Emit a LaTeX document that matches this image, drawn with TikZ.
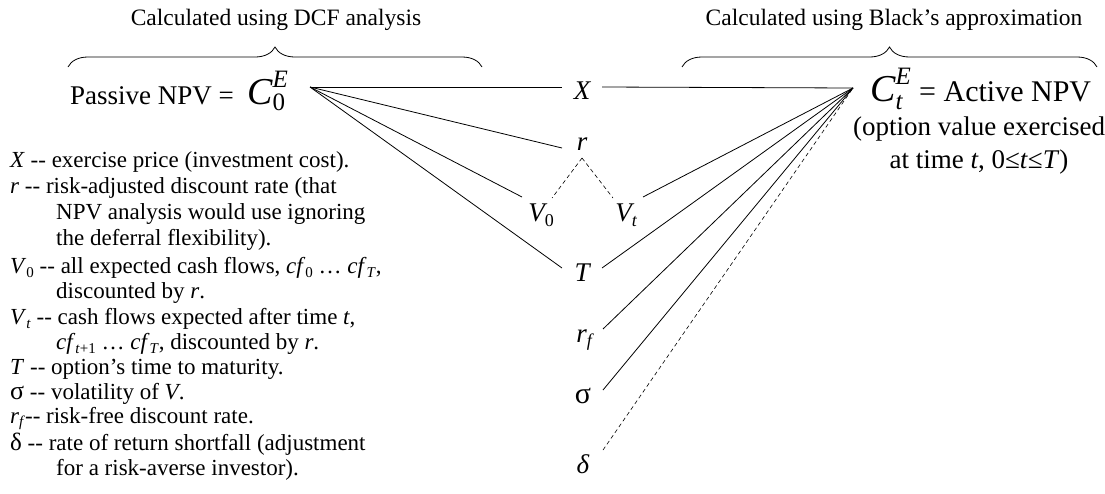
\documentclass[tikz,border=0pt]{standalone}
\usepackage{fontspec}
\setmainfont{Liberation Serif}
\usetikzlibrary{decorations.pathreplacing}
\newcommand\fsz[1]{\fontsize{#1}{#1}\selectfont}
\newcommand\mysub[2][15]{\raisebox{-4.5pt}{\fsz{#1}#2}}
\newcommand\dd{-{}-}
\tikzset{
  conn/.style={line width=0.8pt},
  dconn/.style={line width=0.6pt, dash pattern=on 4pt off 3pt},
  lab/.style={inner sep=0pt, font=\fsz{27}\itshape},
  leg/.style={inner sep=0pt, anchor=base west, font=\fsz{23}},
  toptext/.style={inner sep=0pt, font=\fsz{23.5}},
  bigtext/.style={inner sep=0pt, font=\fsz{27}},
  bracestyle/.style={line width=0.8pt, decorate, decoration={brace, amplitude=20pt}}
}
\begin{document}
\begin{tikzpicture}[x=1pt, y=-1pt]
\useasboundingbox (0,0) rectangle (1105,493);

% top texts and braces
\node[toptext] (tl) at (276,20) {Calculated using DCF analysis};
\node[toptext] (tr) at (894,20) {Calculated using Black’s approximation};
\coordinate (bl1) at (68,67);
\coordinate (bl2) at (482,67);
\coordinate (br1) at (682,67);
\coordinate (br2) at (1097,67);
\draw[bracestyle] (bl1) -- (bl2);
\draw[bracestyle] (br1) -- (br2);

% left and right main terms
\node[bigtext, anchor=base west] (pas) at (70,104) {Passive NPV =};
\node[inner sep=0pt, anchor=base west] (c0) at (247,104)
  {{\fsz{38}\itshape C}\rlap{\raisebox{17pt}{\fsz{25}\itshape E}}\raisebox{-6pt}{\fsz{25}0}};
\coordinate (P) at (310,87);

\coordinate (A) at (853,88);
\node[inner sep=0pt, anchor=base west] (ct) at (870,101)
  {{\fsz{38}\itshape C}\rlap{\raisebox{17pt}{\fsz{25}\itshape E}}\raisebox{-8pt}{\fsz{25}\itshape t}};
\node[inner sep=0pt, anchor=base west, font=\fsz{30}] (act) at (919,101) {= Active NPV};
\node[bigtext, anchor=base] (opt1) at (979,135) {(option value exercised};
\node[bigtext, anchor=base] (opt2) at (979,168) {at time \textit{t}, 0≤\textit{t}≤\textit{T})};

% parameter labels
\node[lab] (X) at (582,91) {X};
\node[lab] (r) at (582,144) {r};
\node[lab] (V0) at (541,215) {V\mysub[18]{\upshape 0}};
\node[lab] (Vt) at (626,215) {V\mysub[18]{t}};
\node[lab] (T) at (582,273) {T};
\node[lab] (rf) at (584,340) {r\mysub[18]{f}};
\node[lab, font=\fsz{30}] (sig) at (583,396) {σ};
\node[lab] (del) at (583,464) {δ};

% connectors to passive NPV
\draw[conn] (P) -- ([shift={(-20,-4)}]X.center);
\draw[conn] (P) -- ([shift={(-20,4)}]r.center);
\draw[conn] (P) -- ([shift={(-19,-18)}]V0.center);
\draw[conn] (P) -- ([shift={(-20,-5)}]T.center);
% connectors to active NPV
\draw[conn] ([shift={(20,-4)}]X.center) -- (A);
\draw[conn] ([shift={(17,-18)}]Vt.center) -- (A);
\draw[conn] ([shift={(20,-5)}]T.center) -- (A);
\draw[conn] ([shift={(19,-11)}]rf.center) -- (A);
\draw[conn] ([shift={(20,-6)}]sig.center) -- (A);
\draw[dconn] ([shift={(20,-14)}]del.center) -- (A);
% r splits into V0 and Vt
\draw[dconn] ([shift={(0,14)}]r.center) -- ([shift={(11,-17)}]V0.center);
\draw[dconn] ([shift={(0,14)}]r.center) -- ([shift={(-13,-17)}]Vt.center);

% legend
\node[leg] (l1) at (10,167) {\textit{X} \dd{} exercise price (investment cost).};
\node[leg] (l2) at (10,193) {\textit{r} \dd{} risk-adjusted discount rate (that};
\node[leg] (l3) at (56,219) {NPV analysis would use ignoring};
\node[leg] (l4) at (56,245) {the deferral flexibility).};
\node[leg] (l5) at (10,273) {\textit{V}\mysub{0} \dd{} all expected cash flows, \textit{cf}\mysub{0} … \textit{cf}\mysub{\textit{T}},};
\node[leg] (l6) at (56,298) {discounted by \textit{r}.};
\node[leg] (l7) at (10,324) {\textit{V}\mysub{\textit{t}} \dd{} cash flows expected after time \textit{t},};
\node[leg] (l8) at (56,349) {\textit{cf}\mysub{\textit{t}+1} … \textit{cf}\mysub{\textit{T}}, discounted by \textit{r}.};
\node[leg] (l9) at (10,374) {\textit{T} \dd{} option’s time to maturity.};
\node[leg] (l10) at (10,399) {{\fsz{26}σ} \dd{} volatility of \textit{V}.};
\node[leg] (l11) at (10,423) {\textit{r}{\raisebox{-3pt}{\fsz{15}\textit{f}}}\dd{} risk-free discount rate.};
\node[leg] (l12) at (10,450) {{\fsz{25}δ} \dd{} rate of return shortfall (adjustment};
\node[leg] (l13) at (56,475) {for a risk-averse investor).};
\end{tikzpicture}
\end{document}
